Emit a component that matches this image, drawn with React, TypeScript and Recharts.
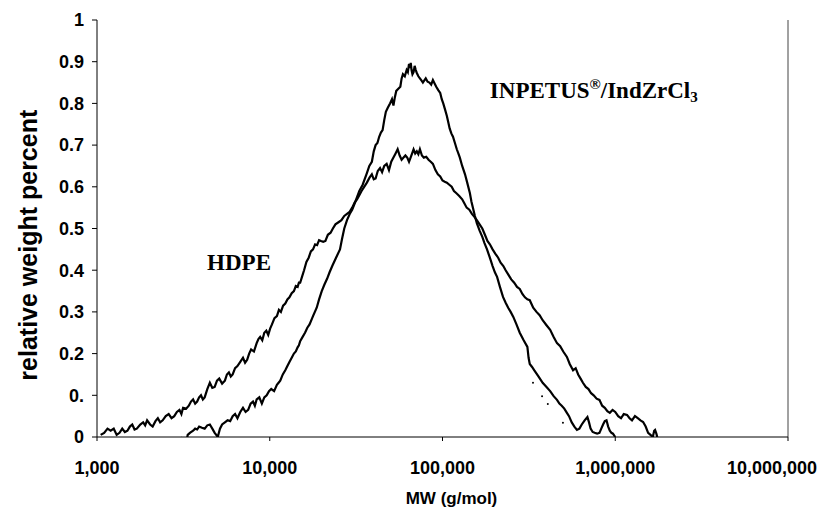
import React from 'react';
import { LineChart, Line, XAxis, YAxis, ReferenceLine, ReferenceDot, Label } from 'recharts';

const xTicks = [1000, 10000, 100000, 1000000, 10000000];
const xTickLabels = ['1,000', '10,000', '100,000', '1,000,000', '10,000,000'];
const yTicks = [0, 0.1, 0.2, 0.3, 0.4, 0.5, 0.6, 0.7, 0.8, 0.9, 1];
const yTickLabels = ['0', '0.', '0.2', '0.3', '0.4', '0.5', '0.6', '0.7', '0.8', '0.9', '1'];

// HDPE: molecular weight (g/mol)
const hdpeMw = [
  1050, 1100, 1150, 1200, 1250, 1300, 1350, 1400, 1450, 1500, 1550, 1600, 1650, 1700, 1780, 1850,
  1900, 1950, 2030, 2100, 2180, 2250, 2320, 2400, 2500, 2600, 2700, 2800, 2900, 3000, 3080, 3150,
  3280, 3400, 3500, 3600, 3700, 3800, 3900, 4000, 4100, 4200, 4350, 4500, 4650, 4800, 4950, 5100,
  5300, 5500, 5650, 5800, 5950, 6100, 6300, 6500, 6750, 7000, 7200, 7400, 7600, 7800, 8100, 8400,
  8600, 8800, 9050, 9300, 9550, 9800, 10050, 10300, 10650, 11000, 11300, 11600, 11950, 12300, 12650,
  13000, 13400, 13800, 14150, 14500, 14750, 15000, 15400, 15800, 16300, 16800, 17300, 17800, 18300,
  18800, 19300, 19800, 20400, 21000, 21700, 22500, 23200, 24000, 25000, 26000, 27000, 28000, 29000,
  30000, 31000, 32000, 33000, 34000, 35200, 36500, 37800, 39000, 40000, 41000, 42200, 43500, 44700,
  46000, 47500, 49000, 50500, 52000, 53500, 55000, 56500, 58000, 59500, 61000, 62500, 64000, 66000,
  68000, 69500, 71000, 72500, 74000, 76000, 78000, 80500, 83000, 85500, 88000, 91000, 94000, 97000,
  100000, 103000, 106000, 109500, 113000, 116500, 120000, 125000, 130000, 134000, 138000, 143000,
  148000, 153000, 158000, 164000, 170000, 176000, 182000, 188000, 195000, 202000, 210000, 217000,
  225000, 232000, 240000, 250000, 260000, 270000, 280000, 290000, 300000, 310000, 320000, 335000,
  350000, 365000, 380000, 400000, 420000, 440000, 460000, 480000, 500000, 525000, 545000, 570000,
  590000, 610000, 630000, 650000, 675000, 700000, 725000, 750000, 780000, 810000, 840000, 870000,
  900000, 930000, 965000, 1000000, 1040000, 1080000, 1120000, 1170000, 1210000, 1250000, 1300000,
  1350000, 1400000, 1450000, 1500000, 1550000, 1600000, 1650000, 1680000, 1700000, 1730000, 1750000,
];
// HDPE: relative weight percent
const hdpeW = [
  0.005, 0.01, 0.02, 0.015, 0.02, 0.005, 0.01, 0.02, 0.012, 0.015, 0.025, 0.03, 0.018, 0.02, 0.03, 0.035,
  0.028, 0.04, 0.03, 0.025, 0.038, 0.045, 0.035, 0.04, 0.05, 0.055, 0.045, 0.05, 0.06, 0.065, 0.055, 0.07,
  0.068, 0.075, 0.085, 0.09, 0.08, 0.085, 0.095, 0.1, 0.09, 0.095, 0.115, 0.13, 0.118, 0.12, 0.135, 0.14,
  0.128, 0.135, 0.15, 0.155, 0.145, 0.15, 0.165, 0.17, 0.18, 0.19, 0.178, 0.185, 0.2, 0.21, 0.205, 0.225,
  0.235, 0.24, 0.232, 0.25, 0.255, 0.245, 0.26, 0.27, 0.285, 0.29, 0.305, 0.3, 0.315, 0.32, 0.33,
  0.335, 0.345, 0.35, 0.362, 0.36, 0.37, 0.37, 0.385, 0.4, 0.42, 0.43, 0.445, 0.45, 0.462,
  0.46, 0.472, 0.47, 0.468, 0.47, 0.485, 0.49, 0.5, 0.51, 0.515, 0.52, 0.53, 0.535, 0.54,
  0.55, 0.562, 0.57, 0.58, 0.59, 0.6, 0.61, 0.622, 0.63, 0.618, 0.62, 0.638, 0.645, 0.635,
  0.65, 0.655, 0.64, 0.66, 0.67, 0.68, 0.69, 0.675, 0.665, 0.67, 0.675, 0.67, 0.66, 0.675,
  0.69, 0.68, 0.685, 0.678, 0.69, 0.675, 0.67, 0.672, 0.665, 0.66, 0.655, 0.64, 0.63, 0.625,
  0.615, 0.612, 0.61, 0.605, 0.6, 0.59, 0.585, 0.578, 0.57, 0.56, 0.55, 0.545,
  0.535, 0.528, 0.52, 0.51, 0.5, 0.485, 0.47, 0.462, 0.45, 0.44, 0.43, 0.418,
  0.41, 0.4, 0.39, 0.378, 0.37, 0.36, 0.355, 0.343, 0.335, 0.33, 0.328, 0.31,
  0.3, 0.292, 0.28, 0.268, 0.257, 0.24, 0.225, 0.218, 0.205, 0.192, 0.175, 0.16,
  0.165, 0.15, 0.14, 0.13, 0.12, 0.115, 0.105, 0.1, 0.092, 0.089, 0.075, 0.07,
  0.062, 0.058, 0.065, 0.06, 0.05, 0.045, 0.055, 0.053, 0.045, 0.04, 0.05,
  0.045, 0.04, 0.036, 0.025, 0.01, 0.005, 0, 0.015, 0.017, 0.008, 0,
];

// INPETUS(R)/IndZrCl3: molecular weight (g/mol)
const inpMw = [
  3050, 3150, 3250, 3350, 3450, 3600, 3700, 3800, 3900, 4050, 4200, 4350, 4500, 4650, 4800, 4900,
  5000, 5150, 5300, 5500, 5700, 5900, 6100, 6300, 6500, 6750, 7000, 7250, 7500, 7750, 8000, 8200,
  8400, 8700, 9000, 9300, 9600, 9900, 10200, 10600, 11000, 11250, 11500, 11900, 12300, 12650, 13000,
  13400, 13800, 14150, 14500, 14750, 15000, 15500, 16000, 16500, 17000, 17800, 18700, 19300, 20000,
  20700, 21500, 22200, 23000, 24200, 25500, 26200, 27000, 28000, 29200, 30000, 31000, 32000, 33000,
  34500, 36500, 37700, 39000, 40000, 41000, 42000, 43000, 44000, 45000, 46000, 47000, 48300, 49700,
  51000, 52000, 53000, 54000, 55500, 57000, 58000, 59000, 60500, 62000, 63000, 64000, 64800, 65500,
  66200, 67000, 68000, 69000, 70000, 71000, 72500, 74000, 75500, 77000, 78500, 80000, 82000, 84000,
  86000, 88000, 90000, 92000, 94500, 97000, 99000, 101000, 103500, 106000, 108000, 110000, 112500,
  115000, 118000, 121000, 123500, 126000, 130000, 135000, 139000, 144000, 147000, 150000, 154000,
  158000, 164000, 170000, 175000, 181000, 188000, 195000, 201000, 207000, 215000, 224000, 232000,
  240000, 248000, 257000, 268000, 280000, 295000, 310000, 315000, 320000, 330000, 340000, 360000,
  380000, 400000, 420000, 440000, 460000, 475000, 490000, 507000, 525000, 540000, 560000, 580000,
  600000, 620000, 640000, 665000, 690000, 705000, 720000, 740000, 760000, 785000, 810000, 830000,
  850000, 870000, 890000, 910000, 930000, 950000, 970000, 985000, 1000000,
];
// INPETUS(R)/IndZrCl3: relative weight percent
const inpW = [
  0, -0.02, -0.025, 0.005, 0.01, 0.015, 0.02, 0.018, 0.025, 0.022, 0.02, 0.028, 0.03, 0.02, 0.01, 0.005,
  0, 0.02, 0.03, 0.035, 0.04, 0.038, 0.05, 0.055, 0.045, 0.06, 0.07, 0.06, 0.065, 0.08, 0.085, 0.075,
  0.09, 0.095, 0.08, 0.095, 0.1, 0.11, 0.115, 0.11, 0.125, 0.13, 0.135, 0.15, 0.16, 0.17, 0.18,
  0.19, 0.2, 0.205, 0.215, 0.22, 0.23, 0.24, 0.25, 0.262, 0.27, 0.29, 0.31, 0.33, 0.35,
  0.365, 0.38, 0.395, 0.41, 0.43, 0.45, 0.475, 0.5, 0.52, 0.537, 0.545, 0.56, 0.575, 0.59,
  0.605, 0.633, 0.65, 0.66, 0.685, 0.7, 0.705, 0.72, 0.73, 0.736, 0.76, 0.78, 0.79, 0.8,
  0.81, 0.795, 0.815, 0.83, 0.835, 0.84, 0.86, 0.87, 0.865, 0.88, 0.875, 0.895, 0.885, 0.897,
  0.88, 0.87, 0.875, 0.89, 0.88, 0.873, 0.865, 0.86, 0.855, 0.85, 0.855, 0.86, 0.852, 0.85,
  0.845, 0.856, 0.848, 0.84, 0.832, 0.825, 0.81, 0.8, 0.785, 0.77, 0.755, 0.74, 0.728,
  0.72, 0.705, 0.69, 0.68, 0.67, 0.65, 0.63, 0.61, 0.585, 0.565, 0.55, 0.53,
  0.513, 0.495, 0.48, 0.465, 0.45, 0.43, 0.41, 0.395, 0.384, 0.36, 0.336, 0.322,
  0.31, 0.3, 0.288, 0.27, 0.25, 0.232, 0.216, 0.19, 0.175, 0.168, 0.16, 0.145,
  0.13, 0.12, 0.11, 0.098, 0.089, 0.08, 0.075, 0.068, 0.058, 0.05, 0.035, 0.025,
  0.017, 0.02, 0.03, 0.04, 0.048, 0.035, 0.02, 0.012, 0.01, 0.008, 0.01, 0.02,
  0.03, 0.038, 0.04, 0.025, 0.015, 0.01, 0.008, 0.004, 0,
];

// stray dots below the INPETUS tail
const dotMw = [334000, 377000, 407000, 498000];
const dotW = [0.13, 0.098, 0.079, 0.034];

const hdpe = hdpeMw.map((mw, i) => ({ mw, w: hdpeW[i] }));
const inpetus = inpMw.map((mw, i) => ({ mw, w: inpW[i] }));
const strays = dotMw.map((mw, i) => ({ mw, w: dotW[i] }));

const SANS = "'Liberation Sans', Arial, sans-serif";
const SERIF = "'Liberation Serif', 'Times New Roman', serif";

function XTick(props: any) {
  const { x, y, payload } = props;
  const i = xTicks.indexOf(payload.value);
  const last = i === xTicks.length - 1;
  return (
    <text x={last ? x + 29 : x} y={y} dy="0.71em" textAnchor={last ? 'end' : 'middle'}
      fontFamily={SANS} fontWeight="bold" fontSize={18} fill="#000">
      {xTickLabels[i]}
    </text>
  );
}

function YTick(props: any) {
  const { x, y, payload } = props;
  const i = yTicks.findIndex(t => Math.abs(t - payload.value) < 1e-9);
  return (
    <text x={x} y={y} dy="0.355em" textAnchor="end" fontFamily={SANS} fontWeight="bold" fontSize={18} fill="#000">
      {yTickLabels[i]}
    </text>
  );
}

function YTitle(props: any) {
  const { viewBox } = props;
  const cx = 28;
  const cy = viewBox.y + viewBox.height * 0.54;
  return (
    <text x={cx} y={cy} transform={`rotate(-90 ${cx} ${cy})`} textAnchor="middle" dy="0.355em"
      fontFamily={SANS} fontWeight="bold" fontSize={25} fill="#000">
      relative weight percent
    </text>
  );
}

function XTitle(props: any) {
  const { viewBox } = props;
  const cx = viewBox.x + viewBox.width / 2 + 9;
  return (
    <text x={cx} y={504} textAnchor="middle" fontFamily={SANS} fontWeight="bold" fontSize={17} fill="#000">
      MW (g/mol)
    </text>
  );
}

function HdpeLabel(props: any) {
  const { viewBox } = props;
  return (
    <text x={viewBox.x} y={viewBox.y} textAnchor="middle" fontFamily={SERIF} fontWeight="bold" fontSize={23} fill="#000">
      HDPE
    </text>
  );
}

function InpetusLabel(props: any) {
  const { viewBox } = props;
  return (
    <text x={viewBox.x} y={viewBox.y} textAnchor="start" fontFamily={SERIF} fontWeight="bold" fontSize={23} fill="#000">
      INPETUS
      <tspan fontSize={15} dy={-9}>®</tspan>
      <tspan dy={9}>/IndZrCl</tspan>
      <tspan fontSize={15} dy={4}>3</tspan>
    </text>
  );
}

export default function App() {
  return (
    <div style={{ position: 'absolute', left: 0, top: 0, width: 823, height: 510, background: '#fff' }}>
      <LineChart width={823} height={510} margin={{ top: 20, right: 35, left: 0, bottom: 0 }}>
        <XAxis dataKey="mw" type="number" scale="log" domain={[1000, 10000000]} ticks={xTicks}
          allowDataOverflow height={73} tick={<XTick />} tickSize={4} tickMargin={20}
          axisLine={{ stroke: '#000' }} tickLine={{ stroke: '#000' }}>
          <Label content={<XTitle />} />
        </XAxis>
        <YAxis type="number" domain={[0, 1]} ticks={yTicks} allowDataOverflow width={97}
          tick={<YTick />} tickSize={5} tickMargin={8}
          axisLine={{ stroke: '#000' }} tickLine={{ stroke: '#000' }}>
          <Label content={<YTitle />} />
        </YAxis>
        <ReferenceLine x={10000000} stroke="#444" strokeWidth={1} />
        <Line data={hdpe} dataKey="w" type="linear" stroke="#000" strokeWidth={2.2} dot={false}
          isAnimationActive={false} />
        <Line data={inpetus} dataKey="w" type="linear" stroke="#000" strokeWidth={2.2} dot={false}
          isAnimationActive={false} />
        <Line data={strays} dataKey="w" type="linear" stroke="none" dot={{ r: 1, fill: '#000', stroke: 'none' }}
          isAnimationActive={false} />
        <ReferenceDot x={6640} y={0.4} r={0} fill="none" stroke="none" label={<HdpeLabel />} />
        <ReferenceDot x={188000} y={0.813} r={0} fill="none" stroke="none" label={<InpetusLabel />} />
      </LineChart>
    </div>
  );
}
